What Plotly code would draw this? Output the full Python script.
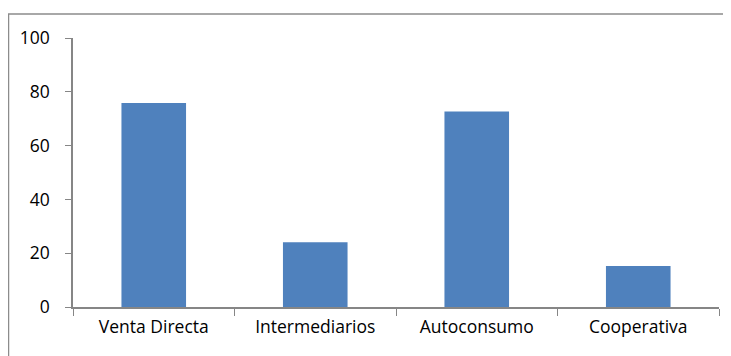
import plotly.graph_objects as go

categories = ["Venta Directa", "Intermediarios", "Autoconsumo", "Cooperativa"]
values = [75.8, 24.1, 72.7, 15.2]
y_ticks = [0, 20, 40, 60, 80, 100]

# page body has an 8px default margin, so work in page pixels and shift
OFF = 8
W, H = 731 - OFF, 356 - OFF
L, R, T, B = 73 - OFF, 731 - 719, 38 - OFF, 356 - 307
pw, ph = W - L - R, H - T - B


def px_x(p):
    return (p - OFF - L) / pw


def px_y(p):
    return (H - B - (p - OFF)) / ph


fig = go.Figure()
fig.add_trace(
    go.Bar(x=categories, y=values, marker=dict(color="#4f81bd", line=dict(width=0)), width=0.4)
)

# chart area border (Excel style)
fig.add_shape(
    type="rect", xref="paper", yref="paper",
    x0=px_x(8.5), x1=px_x(730), y0=px_y(380), y1=px_y(14),
    line=dict(color="#8c8c8c", width=1.5), fillcolor="rgba(0,0,0,0)", layer="below",
)

axis_font = dict(family="'Open Sans', sans-serif", size=17.5, color="#000000")

fig.update_layout(
    width=W, height=H,
    margin=dict(l=L, r=R, t=T, b=B, autoexpand=False),
    paper_bgcolor="white", plot_bgcolor="white",
    showlegend=False,
    xaxis=dict(
        type="category", tickson="boundaries", ticks="outside", ticklen=7,
        tickcolor="#868686", showline=True, linecolor="#868686", linewidth=1.5,
        showgrid=False, tickfont=axis_font, range=[-0.5, 3.5], automargin=False,
        ticklabelstandoff=3,
    ),
    yaxis=dict(
        range=[0, 100], tickvals=y_ticks, ticks="outside", ticklen=6,
        tickcolor="#868686", showline=True, linecolor="#868686", linewidth=1.5,
        showgrid=False, zeroline=False, tickfont=axis_font, ticklabelstandoff=12,
        automargin=False,
    ),
)

fig.write_html("out.html")
